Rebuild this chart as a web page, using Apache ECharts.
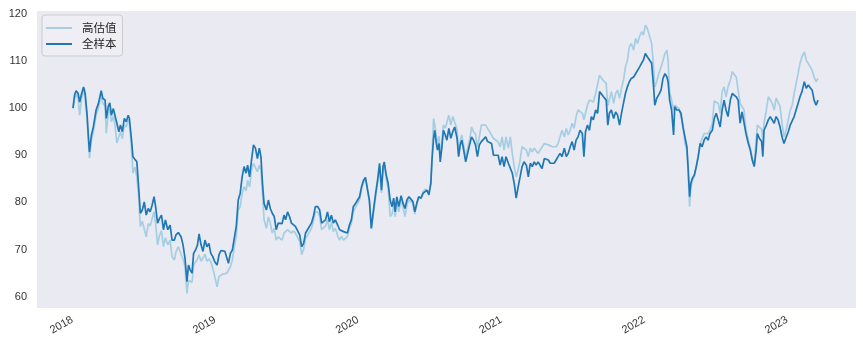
<!DOCTYPE html>
<html><head><meta charset="utf-8">
<script src="https://cdn.jsdelivr.net/npm/echarts@6/dist/echarts.min.js"></script>
<style>html,body{margin:0;padding:0;background:#fff}#c{width:863px;height:347px}</style>
</head><body><div id="c"></div>
<script>
const seriesNames = ['高估值', '全样本'];
const dates = [
'2018-01-03','2018-01-07','2018-01-11','2018-01-16','2018-01-20','2018-01-25','2018-01-30','2018-02-03','2018-02-08','2018-02-11',
'2018-02-14','2018-02-19','2018-02-24','2018-03-03','2018-03-09','2018-03-16','2018-03-20','2018-03-26','2018-03-29','2018-04-03',
'2018-04-07','2018-04-11','2018-04-16','2018-04-20','2018-04-25','2018-04-30','2018-05-04','2018-05-09','2018-05-14','2018-05-19',
'2018-05-24','2018-05-27','2018-06-01','2018-06-05','2018-06-10','2018-06-15','2018-06-19','2018-06-24','2018-06-29','2018-07-04',
'2018-07-09','2018-07-14','2018-07-19','2018-07-24','2018-07-29','2018-08-02','2018-08-07','2018-08-12','2018-08-17','2018-08-22',
'2018-08-27','2018-09-02','2018-09-08','2018-09-13','2018-09-19','2018-09-23','2018-09-29','2018-10-06','2018-10-11','2018-10-16',
'2018-10-21','2018-10-25','2018-10-29','2018-11-03','2018-11-07','2018-11-12','2018-11-17','2018-11-21','2018-11-26','2018-12-01',
'2018-12-06','2018-12-11','2018-12-16','2018-12-21','2018-12-26','2018-12-31','2019-01-06','2019-01-11','2019-01-16','2019-01-21',
'2019-01-26','2019-01-31','2019-02-04','2019-02-09','2019-02-14','2019-02-19','2019-02-24','2019-03-01','2019-03-06','2019-03-11',
'2019-03-16','2019-03-21','2019-03-25','2019-03-30','2019-04-04','2019-04-09','2019-04-14','2019-04-19','2019-04-24','2019-04-28',
'2019-05-02','2019-05-06','2019-05-12','2019-05-17','2019-05-22','2019-05-27','2019-06-01','2019-06-06','2019-06-11','2019-06-16',
'2019-06-21','2019-06-26','2019-06-30','2019-07-05','2019-07-10','2019-07-15','2019-07-20','2019-07-25','2019-07-30','2019-08-05',
'2019-08-10','2019-08-15','2019-08-20','2019-08-25','2019-08-30','2019-09-04','2019-09-09','2019-09-14','2019-09-20','2019-09-25',
'2019-09-30','2019-10-05','2019-10-10','2019-10-15','2019-10-20','2019-10-25','2019-10-30','2019-11-04','2019-11-10','2019-11-15',
'2019-11-20','2019-11-25','2019-11-30','2019-12-05','2019-12-10','2019-12-15','2019-12-20','2019-12-26','2019-12-31','2020-01-05',
'2020-01-10','2020-01-15','2020-01-20','2020-01-25','2020-01-30','2020-02-04','2020-02-10','2020-02-15','2020-02-20','2020-02-25',
'2020-03-01','2020-03-05','2020-03-08','2020-03-13','2020-03-18','2020-03-23','2020-03-28','2020-04-01','2020-04-05','2020-04-09',
'2020-04-14','2020-04-20','2020-04-25','2020-04-30','2020-05-05','2020-05-10','2020-05-15','2020-05-20','2020-05-25','2020-05-30',
'2020-06-04','2020-06-10','2020-06-15','2020-06-20','2020-06-25','2020-06-30','2020-07-05','2020-07-08','2020-07-12','2020-07-15',
'2020-07-19','2020-07-22','2020-07-26','2020-07-29','2020-08-02','2020-08-06','2020-08-11','2020-08-15','2020-08-20','2020-08-25',
'2020-08-30','2020-09-04','2020-09-10','2020-09-14','2020-09-18','2020-09-22','2020-09-26','2020-10-02','2020-10-07','2020-10-12',
'2020-10-17','2020-10-22','2020-10-27','2020-11-01','2020-11-06','2020-11-11','2020-11-16','2020-11-22','2020-11-27','2020-12-02',
'2020-12-07','2020-12-12','2020-12-17','2020-12-24','2020-12-29','2021-01-03','2021-01-08','2021-01-13','2021-01-19','2021-01-24',
'2021-01-29','2021-02-03','2021-02-08','2021-02-13','2021-02-18','2021-02-23','2021-02-28','2021-03-06','2021-03-11','2021-03-16',
'2021-03-21','2021-03-26','2021-03-31','2021-04-05','2021-04-10','2021-04-15','2021-04-21','2021-04-26','2021-05-01','2021-05-06',
'2021-05-11','2021-05-16','2021-05-21','2021-05-26','2021-05-31','2021-06-05','2021-06-11','2021-06-16','2021-06-21','2021-06-26',
'2021-07-01','2021-07-06','2021-07-11','2021-07-16','2021-07-21','2021-07-27','2021-07-31','2021-08-04','2021-08-09','2021-08-14',
'2021-08-19','2021-08-24','2021-08-30','2021-09-04','2021-09-09','2021-09-14','2021-09-19','2021-09-26','2021-09-30','2021-10-04',
'2021-10-09','2021-10-15','2021-10-20','2021-10-25','2021-10-30','2021-11-04','2021-11-09','2021-11-14','2021-11-19','2021-11-24',
'2021-11-29','2021-12-05','2021-12-10','2021-12-15','2021-12-20','2021-12-25','2021-12-30','2022-01-04','2022-01-09','2022-01-14',
'2022-01-20','2022-01-25','2022-01-28','2022-02-02','2022-02-07','2022-02-13','2022-02-18','2022-02-23','2022-02-28','2022-03-03',
'2022-03-07','2022-03-12','2022-03-17','2022-03-20','2022-03-25','2022-03-31','2022-04-05','2022-04-10','2022-04-15','2022-04-20',
'2022-04-23','2022-04-27','2022-04-30','2022-05-04','2022-05-09','2022-05-14','2022-05-19','2022-05-24','2022-05-29','2022-06-03',
'2022-06-08','2022-06-13','2022-06-18','2022-06-24','2022-06-29','2022-07-04','2022-07-09','2022-07-14','2022-07-19','2022-07-24',
'2022-07-29','2022-08-03','2022-08-09','2022-08-14','2022-08-19','2022-08-24','2022-08-29','2022-09-03','2022-09-08','2022-09-13',
'2022-09-18','2022-09-24','2022-09-29','2022-10-04','2022-10-09','2022-10-14','2022-10-17','2022-10-22','2022-10-28','2022-10-31',
'2022-11-03','2022-11-09','2022-11-14','2022-11-19','2022-11-24','2022-11-29','2022-12-04','2022-12-09','2022-12-14','2022-12-19',
'2022-12-24','2022-12-30','2023-01-04','2023-01-09','2023-01-14','2023-01-19','2023-01-24','2023-01-29','2023-02-03','2023-02-08',
'2023-02-14','2023-02-19','2023-02-24','2023-03-01','2023-03-06','2023-03-11','2023-03-16','2023-03-21'
];
// 全样本
const fullSample = [
100.0,102.8,103.7,103.1,101.3,103.1,104.5,103.1,98.5,94.3,
90.7,94.3,96.0,99.6,101.0,103.7,102.1,101.7,97.8,100.3,
101.1,98.5,99.9,98.5,96.8,95.0,96.4,95.0,97.8,97.1,
98.5,97.8,93.6,89.7,90.0,88.6,84.0,77.7,78.4,80.1,
77.3,78.7,78.0,79.4,81.2,79.1,75.6,76.6,77.3,74.2,
76.3,74.2,75.2,72.0,72.0,73.1,73.6,72.7,71.0,68.2,
63.2,66.7,65.7,65.0,69.2,69.9,71.0,73.3,71.0,69.6,
72.0,70.6,71.3,69.2,68.5,67.4,66.7,68.9,69.8,69.8,
69.6,69.2,67.1,69.2,69.9,72.4,74.9,80.5,81.9,85.4,
87.6,86.2,87.9,85.4,89.0,92.2,91.5,89.3,91.5,89.7,
84.0,79.8,78.4,80.5,78.7,77.7,77.0,74.2,75.6,75.2,
75.5,77.3,76.3,78.0,77.0,75.6,75.7,74.9,75.2,73.1,
70.6,71.3,73.5,74.2,73.8,75.6,77.0,79.1,79.1,78.4,
75.6,75.6,76.3,78.0,75.9,77.3,75.6,76.3,75.2,74.2,
74.5,73.8,73.5,73.5,75.2,76.3,79.1,79.8,80.5,81.2,
83.3,84.7,85.3,85.1,80.5,74.5,78.7,81.9,84.7,88.3,
82.6,87.6,88.6,85.8,84.0,80.5,79.1,80.9,78.0,81.2,
79.1,81.4,79.8,78.7,80.5,81.2,80.7,80.2,78.0,79.8,
81.2,80.9,81.9,82.3,82.6,81.6,84.0,89.0,93.6,95.3,
92.5,91.1,92.5,88.6,91.5,95.3,94.3,93.2,95.7,93.6,
95.0,96.0,93.6,89.7,92.2,93.2,91.5,88.6,90.4,92.2,
93.9,93.2,92.2,89.7,92.2,92.9,93.2,93.9,92.9,93.2,
92.5,90.0,89.7,90.0,87.9,89.7,87.6,89.7,88.3,88.6,
86.2,84.0,80.9,83.3,85.4,87.6,88.6,87.9,85.4,88.3,
87.6,88.6,87.9,88.6,89.0,87.2,89.3,89.7,89.0,88.3,
88.6,88.3,89.0,89.7,90.4,89.7,91.5,89.7,90.4,91.8,
92.9,91.1,93.2,93.9,95.3,94.6,89.7,95.0,96.4,95.3,
98.2,97.5,99.6,98.9,103.5,103.8,102.4,101.7,96.4,98.9,
99.6,97.8,99.2,98.5,96.4,98.9,101.0,103.1,104.5,105.6,
106.3,106.6,107.3,107.7,108.7,109.5,110.2,111.6,110.9,111.2,
109.5,104.5,100.6,102.1,102.8,103.8,106.3,107.3,106.6,105.6,
101.7,99.6,94.3,100.3,99.6,99.6,98.9,96.0,93.9,91.8,
87.6,81.2,84.0,85.1,85.8,87.6,89.7,92.5,91.8,93.2,
93.9,93.2,94.6,95.3,97.8,98.9,97.5,96.0,99.6,101.7,
99.6,98.2,101.7,103.1,103.5,102.4,101.7,96.8,99.2,98.9,
94.6,92.5,91.1,89.0,87.6,91.1,94.6,93.6,92.9,89.7,
95.3,96.4,97.5,98.2,98.2,96.8,98.2,97.5,96.0,93.9,
92.5,93.9,95.0,96.4,96.8,98.2,99.6,101.0,102.4,103.5,
105.6,104.2,104.9,104.5,103.8,101.7,100.6,101.7
];
// 高估值
const highVal = [
100.0,102.0,103.0,102.0,98.5,102.2,103.8,102.0,97.5,93.5,
89.4,93.3,95.0,98.5,100.0,102.8,101.0,100.5,94.7,98.8,
99.8,97.1,98.3,96.5,92.6,93.0,95.0,93.5,96.5,96.0,
97.5,96.8,92.0,86.2,87.5,85.4,82.0,74.9,76.0,76.3,
72.7,75.5,75.0,76.5,78.0,75.5,71.0,73.0,74.0,70.6,
72.5,71.0,72.0,68.5,67.8,69.5,70.6,69.0,68.0,66.4,
60.7,63.5,63.9,63.0,66.7,67.0,68.0,68.9,67.5,67.1,
69.0,67.5,68.0,67.4,66.0,64.3,62.1,64.3,64.6,64.8,
65.2,65.0,65.3,66.4,67.8,70.6,72.8,78.4,79.1,81.9,
83.3,82.5,84.7,83.3,86.9,88.3,88.0,86.5,87.9,86.9,
81.9,76.3,74.5,76.9,75.5,73.5,74.5,72.0,72.7,73.0,
72.0,73.5,73.5,74.2,74.5,73.5,74.0,73.5,73.8,71.7,
68.9,70.0,72.4,73.0,72.8,74.5,76.0,78.0,78.0,77.0,
74.2,74.2,75.0,76.3,74.2,75.8,73.8,74.5,72.9,72.0,
72.8,72.0,72.4,72.8,74.5,75.5,78.0,79.0,79.8,80.5,
82.8,84.2,85.0,84.8,80.2,74.5,78.2,81.0,84.0,87.8,
82.0,87.0,88.0,85.0,83.0,77.0,77.5,79.5,77.0,80.0,
78.0,80.5,79.0,77.0,79.5,80.5,80.2,79.8,77.5,79.5,
81.0,81.0,82.2,82.8,83.0,82.0,84.5,90.0,97.8,96.5,
94.0,92.0,94.0,89.7,92.5,96.4,95.8,95.7,98.5,96.4,
98.2,97.8,95.5,90.0,93.0,94.3,92.5,89.5,91.5,93.2,
96.0,95.0,94.5,91.8,93.9,96.4,96.0,96.4,95.7,95.0,
94.3,93.6,93.9,92.8,91.8,93.9,91.1,93.9,91.5,93.9,
90.4,87.6,85.4,86.9,89.0,91.8,92.2,91.1,89.7,91.5,
90.7,91.5,91.1,90.4,91.1,90.7,92.5,92.9,92.2,91.8,
91.8,91.5,91.8,92.5,93.9,95.3,93.9,95.7,94.3,95.3,
96.8,95.7,98.2,99.6,99.9,98.9,97.5,98.9,100.6,101.7,
102.1,101.3,103.1,102.8,107.0,106.3,106.6,105.2,100.5,101.7,
103.5,101.0,103.1,103.8,102.1,104.2,105.9,108.7,110.1,113.0,
113.7,112.3,114.8,113.7,115.2,116.2,115.5,117.6,116.9,116.6,
113.7,108.7,104.5,105.6,107.3,108.7,110.1,111.6,112.3,110.1,
103.5,101.7,99.6,100.6,100.3,99.9,99.6,96.5,92.5,91.0,
86.5,79.1,83.0,84.5,85.5,87.5,90.0,92.5,92.5,94.6,
95.0,94.6,95.3,96.8,101.5,101.7,101.0,98.9,103.5,104.5,
102.4,104.5,105.9,107.7,107.7,106.6,103.8,101.0,100.3,99.6,
95.3,93.2,91.5,89.5,87.9,93.2,96.4,96.0,95.5,93.0,
96.8,99.6,102.4,102.1,101.0,99.6,102.1,102.1,100.3,96.8,
93.9,95.5,97.5,99.6,100.6,103.1,105.2,107.3,109.5,110.9,
111.9,110.1,109.5,109.8,108.0,106.6,105.6,106.3
];
const yTickValues = [60, 70, 80, 90, 100, 110, 120];
const xTickYears = ['2018', '2019', '2020', '2021', '2022', '2023'];
const yRange = [57.6, 120.6];
const xRange = ['2017-10-03', '2023-06-26'];

const ts = s => +new Date(s + 'T00:00:00');
const chart = echarts.init(document.getElementById('c'), null, {renderer: 'canvas'});
chart.setOption({
  animation: false,
  backgroundColor: '#ffffff',
  grid: {left: 37, right: 7, top: 11, bottom: 39, show: true, backgroundColor: '#EAEAF2', borderWidth: 0},
  legend: {
    orient: 'vertical', left: 42, top: 15,
    icon: 'rect', itemWidth: 26, itemHeight: 2, itemGap: 2,
    padding: [6, 6, 5, 4],
    backgroundColor: '#EEEEF4', borderColor: '#cccccc', borderWidth: 1, borderRadius: 3,
    textStyle: {fontSize: 11.5, lineHeight: 14, color: '#262626', fontFamily: '"Noto Sans CJK SC", sans-serif', padding: [0, 0, 0, 5]},
    data: seriesNames
  },
  xAxis: {
    type: 'value',
    min: ts(xRange[0]), max: ts(xRange[1]),
    axisLine: {show: false}, axisTick: {show: false}, splitLine: {show: false},
    axisLabel: {
      customValues: xTickYears.map(y => ts(y + '-01-01')),
      formatter: v => String(new Date(v).getFullYear()),
      rotate: 30, margin: 11, fontSize: 11, color: '#333333', fontFamily: '"Liberation Sans", Arial, sans-serif'
    }
  },
  yAxis: {
    type: 'value', min: yRange[0], max: yRange[1],
    axisLine: {show: false}, axisTick: {show: false}, splitLine: {show: false},
    axisLabel: {
      customValues: yTickValues,
      formatter: v => String(v),
      margin: 10, fontSize: 11, color: '#333333', fontFamily: '"Liberation Sans", Arial, sans-serif'
    }
  },
  series: [
    {name: seriesNames[0], type: 'line', symbol: 'none', data: dates.map((d, i) => [ts(d), highVal[i]]),
     lineStyle: {color: '#a6cee3', width: 1.7}, itemStyle: {color: '#a6cee3'}},
    {name: seriesNames[1], type: 'line', symbol: 'none', data: dates.map((d, i) => [ts(d), fullSample[i]]),
     lineStyle: {color: '#1f78b4', width: 1.7}, itemStyle: {color: '#1f78b4'}}
  ]
});
</script>
</body></html>
